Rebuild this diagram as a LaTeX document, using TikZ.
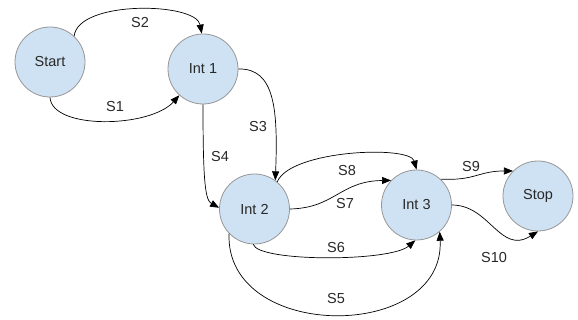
\documentclass[tikz,border=0pt]{standalone}
\usepackage{fontspec}
\setmainfont{Liberation Sans}
\usetikzlibrary{arrows.meta}
\definecolor{nodefill}{RGB}{207,226,243}
\definecolor{nodeborder}{RGB}{150,150,150}
\definecolor{txt}{RGB}{40,40,40}
\tikzset{
  state/.style={circle, draw=nodeborder, fill=nodefill, line width=0.8pt, minimum size=70pt, inner sep=0pt, text=txt, font=\fontsize{14.5}{17}\selectfont},
  lbl/.style={text=txt, font=\fontsize{14.5}{17}\selectfont, inner sep=0pt},
  edge/.style={draw=black, line width=0.7pt, -{Triangle[length=9pt,width=7pt]}}
}
\begin{document}
\begin{tikzpicture}[x=1pt,y=-1pt]
\useasboundingbox (0,0) rectangle (578,320);
\node[state] (start) at (50,62) {Start};
\node[state] (int1) at (203,69) {Int 1};
\node[state] (int2) at (254.5,209) {Int 2};
\node[state] (int3) at (416.5,205) {Int 3};
\node[state] (stop) at (538,196) {Stop};

\draw[edge] (start.47) .. controls (78,0) and (196,2) .. (int1.92);
\draw[edge] (start.270) .. controls (52,130) and (150,128) .. (int1.228);
\draw[edge] (int1.0) .. controls (275,68) and (278,110) .. (int2.54);
\draw[edge] (int1.270) .. controls (203,180) and (205,200) .. (int2.178);
\draw[edge] (int2.50) .. controls (290,150) and (410,145) .. (int3.90);
\draw[edge] (int2.0) .. controls (335,208) and (340,181) .. (int3.136);
\draw[edge] (int2.268) .. controls (258,262) and (390,262) .. (int3.268);
\draw[edge] (int2.224) .. controls (225,342) and (445,342) .. (int3.311);
\draw[edge] (int3.47) .. controls (475,181) and (478,171) .. (stop.135);
\draw[edge] (int3.0) .. controls (490,205) and (500,255) .. (stop.270);

\node[lbl] (l2) at (140,23) {S2};
\node[lbl] (l1) at (115,107) {S1};
\node[lbl] (l3) at (258,127) {S3};
\node[lbl] (l4) at (220,157) {S4};
\node[lbl] (l8) at (347,171) {S8};
\node[lbl] (l7) at (345,204) {S7};
\node[lbl] (l6) at (336,248) {S6};
\node[lbl] (l5) at (336,299) {S5};
\node[lbl] (l9) at (471,167) {S9};
\node[lbl] (l10) at (494,258) {S10};
\end{tikzpicture}
\end{document}
